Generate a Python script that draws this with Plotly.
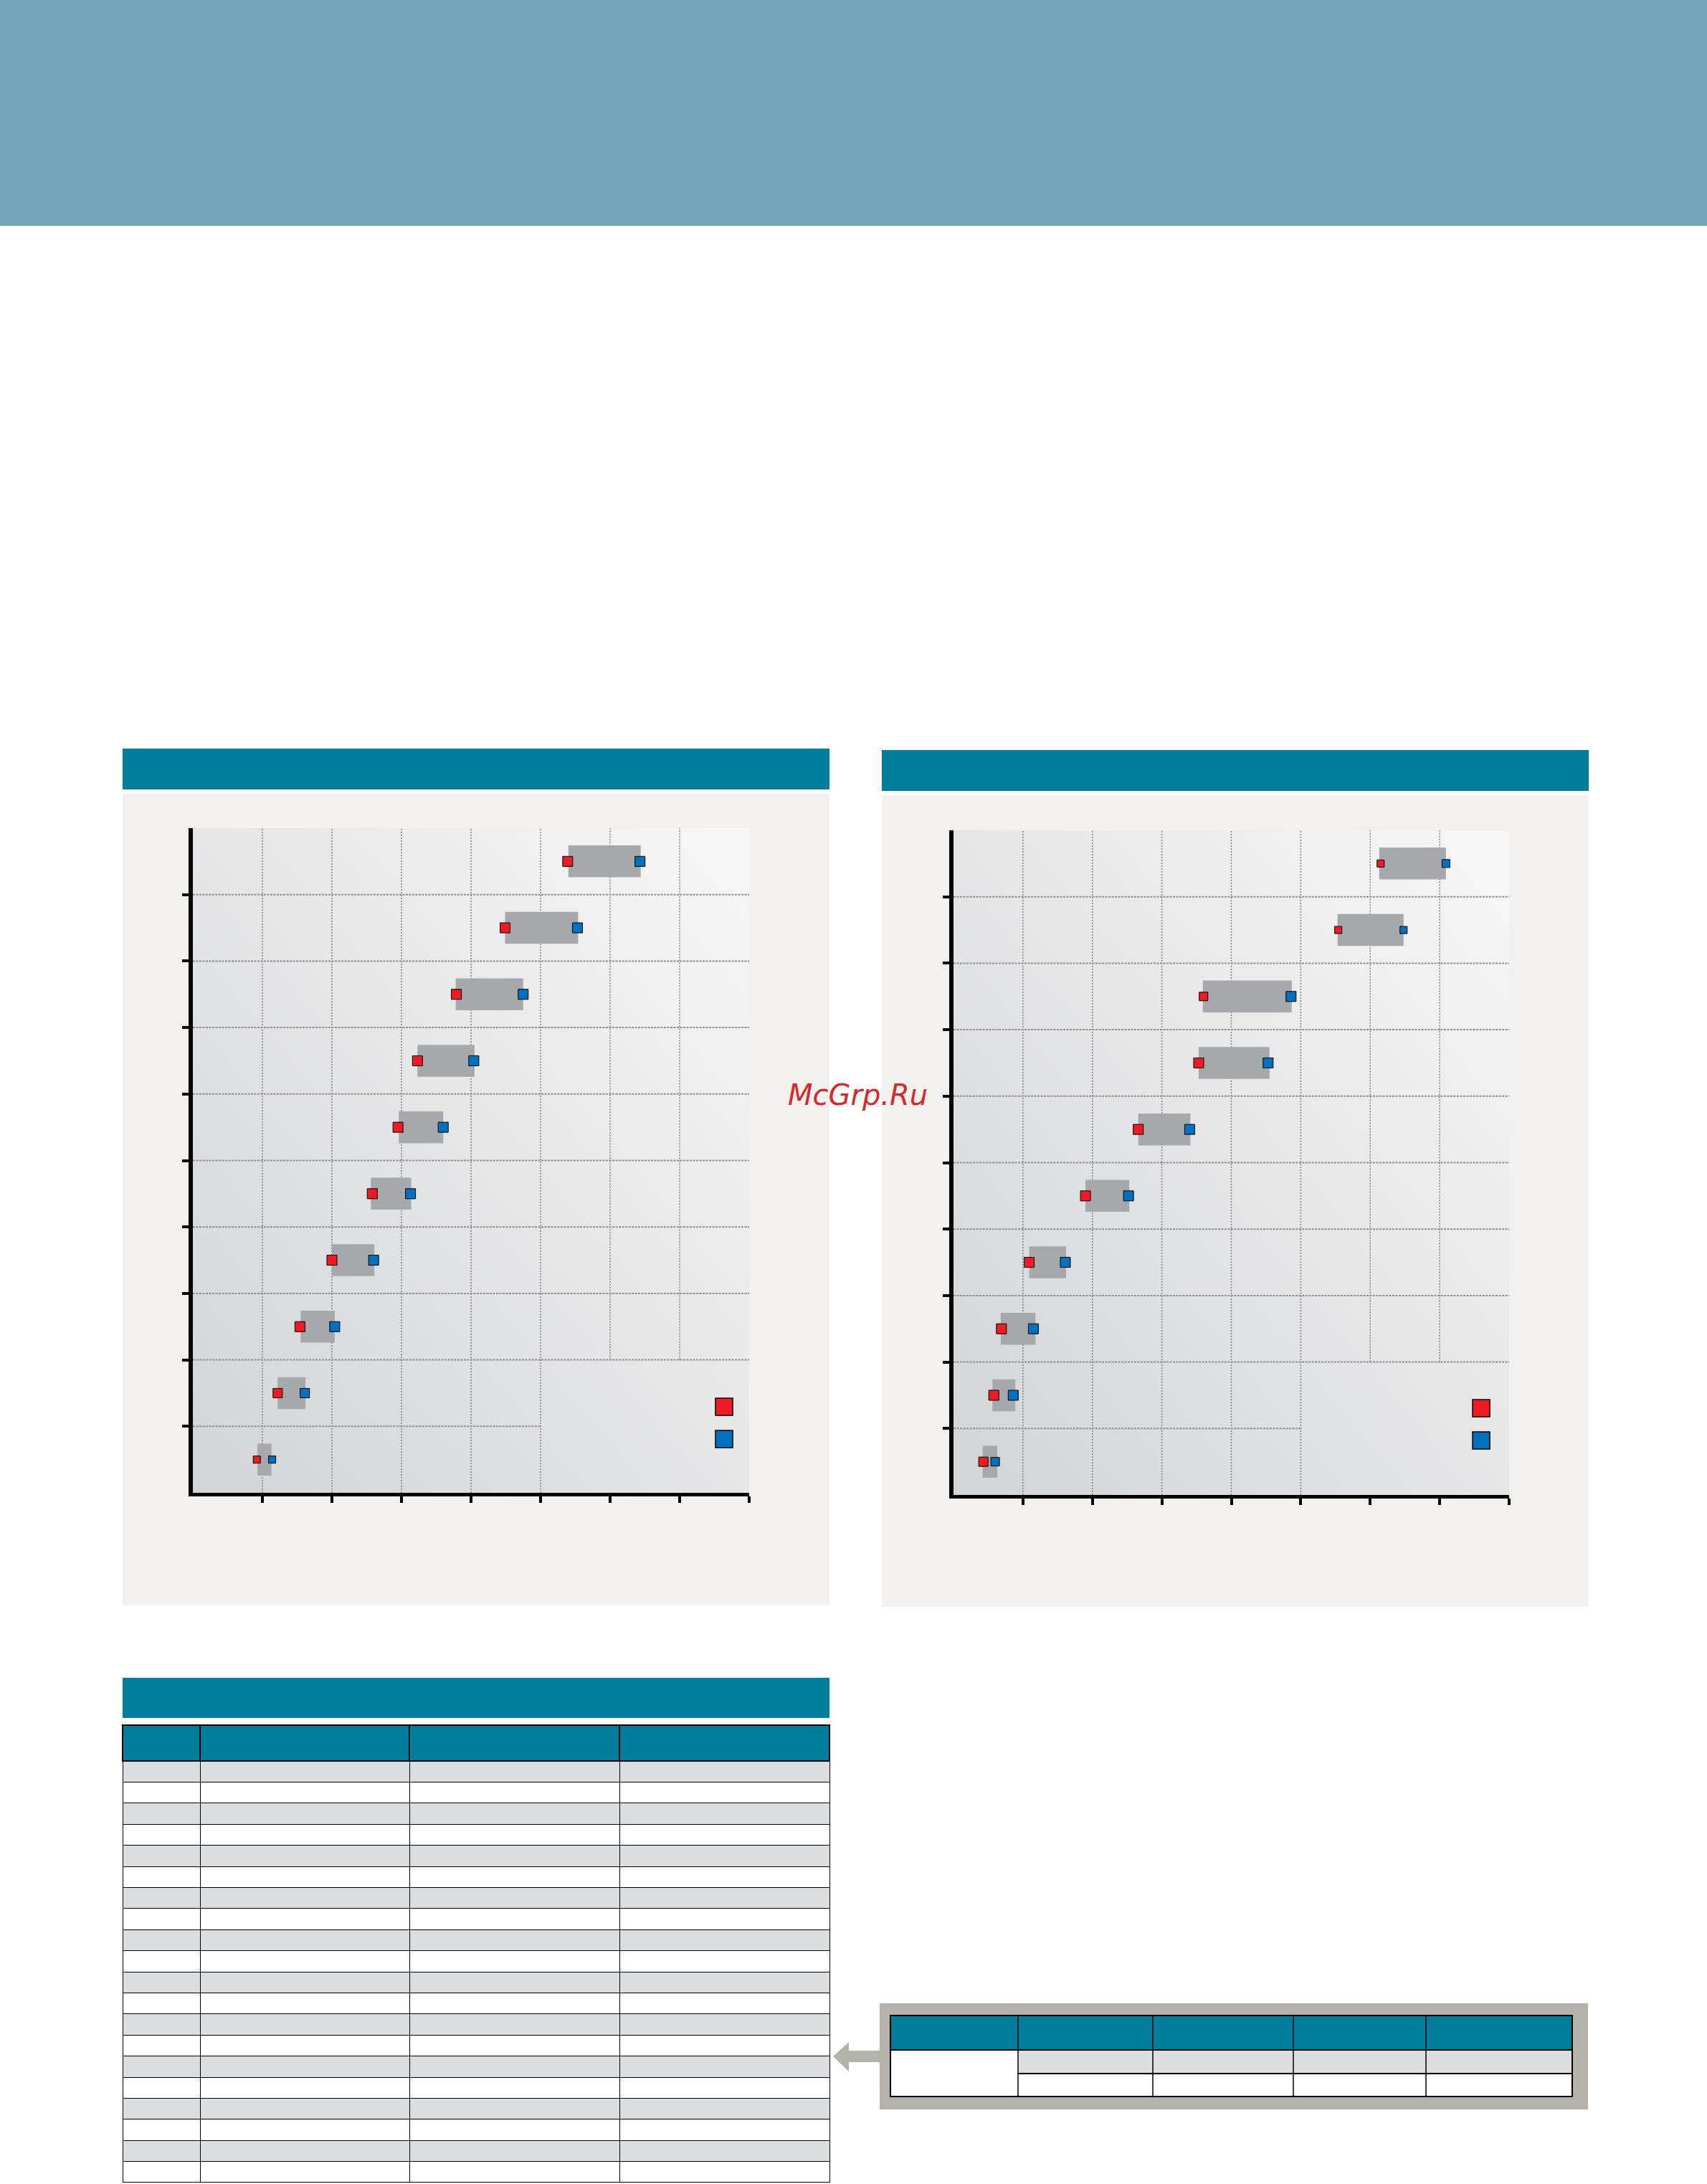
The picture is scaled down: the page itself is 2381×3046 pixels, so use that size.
import base64
import plotly.graph_objects as go

W, H = 2381, 3046

# ---------------- data (rows listed top to bottom) ----------------
rows = ["R1", "R2", "R3", "R4", "R5", "R6", "R7", "R8", "R9", "R10"]

left_low = [5.39, 4.49, 3.79, 3.23, 2.95, 2.58, 2.00, 1.54, 1.22, 0.92]
left_high = [6.43, 5.53, 4.75, 4.04, 3.60, 3.13, 2.60, 2.04, 1.61, 1.14]
left_bar_low = [5.40, 4.49, 3.78, 3.23, 2.96, 2.56, 2.00, 1.55, 1.22, 0.93]
left_bar_high = [6.44, 5.54, 4.75, 4.05, 3.60, 3.14, 2.61, 2.04, 1.62, 1.13]

right_low = [6.15, 5.54, 3.60, 3.53, 2.66, 1.90, 1.09, 0.69, 0.58, 0.43]
right_high = [7.09, 6.48, 4.86, 4.53, 3.40, 2.52, 1.61, 1.15, 0.86, 0.60]
right_bar_low = [6.13, 5.53, 3.59, 3.53, 2.66, 1.90, 1.09, 0.68, 0.56, 0.42]
right_bar_high = [7.09, 6.48, 4.87, 4.55, 3.41, 2.53, 1.62, 1.18, 0.89, 0.63]

x_tickvals = [1, 2, 3, 4, 5, 6, 7, 8]
y_tickvals = [1, 2, 3, 4, 5, 6, 7, 8, 9]

table_header = ["", "", "", ""]
table_cells = [[""] * 20 for _ in range(4)]

watermark = "McGrp.Ru"

# ---------------- styles ----------------
TEAL = "#007D9A"
HEADER_BLUE = "#75A5BA"
PANEL = "#F2F1EF"
BAR_GREY = "#A7A8AB"
RED = "#ED1C24"
BLUE = "#0071BC"
FRAME = "#B4B2AB"
ROW_GREY = "#DCDDDF"

left_sizes_red = [14, 14, 14, 14, 14, 14, 14, 14, 13, 10]
left_sizes_blue = [14, 14, 14, 14, 14, 14, 14, 14, 13, 10]
right_sizes_red = [10, 10, 12, 14, 14, 14, 14, 14, 14, 13]
right_sizes_blue = [11, 10, 14, 14, 14, 14, 14, 14, 14, 12]


def X(px):
    return px / W


def Y(py):
    return 1 - py / H


shapes = []


def rect(x0, y0, x1, y1, fill, layer="below", line_color=None, line_width=0):
    shapes.append(dict(type="rect", xref="paper", yref="paper",
                       x0=X(x0), x1=X(x1), y0=Y(y1), y1=Y(y0),
                       fillcolor=fill, layer=layer,
                       line=dict(color=line_color or fill, width=line_width)))


def hline(x0, x1, y, color="black", width=1.5, layer="below"):
    shapes.append(dict(type="line", xref="paper", yref="paper",
                       x0=X(x0), x1=X(x1), y0=Y(y), y1=Y(y),
                       line=dict(color=color, width=width), layer=layer))


def vline(x, y0, y1, color="black", width=1.5, layer="below"):
    shapes.append(dict(type="line", xref="paper", yref="paper",
                       x0=X(x), x1=X(x), y0=Y(y0), y1=Y(y1),
                       line=dict(color=color, width=width), layer=layer))


# page header band
rect(0, 0, W, 315, HEADER_BLUE)

# chart panels
rect(171, 1044, 1157, 1101, TEAL)
rect(171, 1107, 1157, 2239, PANEL)
rect(1230, 1046, 2216, 1103, TEAL)
rect(1230, 1109, 2216, 2241, PANEL)

# table title band
rect(171, 2340, 1157, 2396, TEAL)

# small table (right bottom) with frame and arrow
rect(1227, 2794, 2215, 2942, FRAME)
rect(1242, 2811, 2193, 2859, TEAL)
rect(1242, 2859, 1420, 2924, "white")
rect(1420, 2859, 2193, 2892, ROW_GREY)
rect(1420, 2892, 2193, 2924, "white")
for cx in [1420, 1608, 1804, 1989]:
    vline(cx, 2811, 2924, width=1.5)
hline(1242, 2193, 2859, width=2)
hline(1420, 2193, 2892, width=2)
shapes.append(dict(type="rect", xref="paper", yref="paper",
                   x0=X(1242), x1=X(2193), y0=Y(2924), y1=Y(2811),
                   line=dict(color="black", width=2), layer="below"))
arrow_pts = [(1162, 2868), (1184, 2848), (1184, 2860), (1227, 2860),
             (1227, 2876), (1184, 2876), (1184, 2889)]
path = "M " + " L ".join(f"{X(a):.6f},{Y(b):.6f}" for a, b in arrow_pts) + " Z"
shapes.append(dict(type="path", xref="paper", yref="paper", path=path,
                   fillcolor=FRAME, line=dict(width=0), layer="below"))

# legend squares (text removed in original)
for cx, cy, col in [(1010, 1962, RED), (1010, 2007, BLUE),
                    (2066, 1964, RED), (2066, 2009, BLUE)]:
    rect(cx - 12, cy - 12, cx + 12, cy + 12, col, layer="above",
         line_color="black", line_width=1.5)


# gridlines per subplot (in data coords), drawn between background and traces
def grid(xr, yr):
    vdash = dict(color="#7F7F7F", width=1.5, dash="2px,2px")
    hdash = dict(color="#8F8F8F", width=2, dash="3px,1.5px")
    for v in [1, 2, 3, 4, 5]:
        shapes.append(dict(type="line", xref=xr, yref=yr, x0=v, x1=v, y0=0, y1=10,
                           line=vdash, layer="between"))
    for v in [6, 7]:
        shapes.append(dict(type="line", xref=xr, yref=yr, x0=v, x1=v, y0=2, y1=10,
                           line=vdash, layer="between"))
    for h in range(2, 10):
        shapes.append(dict(type="line", xref=xr, yref=yr, x0=0, x1=8, y0=h, y1=h,
                           line=hdash, layer="between"))
    shapes.append(dict(type="line", xref=xr, yref=yr, x0=0, x1=5, y0=1, y1=1,
                       line=hdash, layer="between"))


grid("x", "y")
grid("x2", "y2")

# gradient background for plot areas
svg = ('<svg xmlns="http://www.w3.org/2000/svg" width="100" height="100" viewBox="0 0 100 100" '
       'preserveAspectRatio="none"><defs><linearGradient id="g" x1="0" y1="1" x2="1" y2="0">'
       '<stop offset="0" stop-color="#D3D4D6"/><stop offset="1" stop-color="#F7F7F7"/>'
       '</linearGradient></defs><rect width="100" height="100" fill="url(#g)"/></svg>')
src = "data:image/svg+xml;base64," + base64.b64encode(svg.encode()).decode()
images = [dict(source=src, xref=xr, yref=yr, x=0, y=10, sizex=8, sizey=10,
               sizing="stretch", layer="below", xanchor="left", yanchor="top")
          for xr, yr in [("x", "y"), ("x2", "y2")]]

fig = go.Figure()

n = len(rows)
ypos = [n - i - 0.5 for i in range(n)]


def add_chart(lo, hi, blo, bhi, sr, sb, xa, ya):
    fig.add_trace(go.Bar(orientation="h", y=ypos, base=blo,
                         x=[b - a for a, b in zip(blo, bhi)], width=0.48,
                         marker=dict(color=BAR_GREY, line=dict(width=0)),
                         xaxis=xa, yaxis=ya, hoverinfo="skip"))
    fig.add_trace(go.Scatter(x=lo, y=ypos, mode="markers", xaxis=xa, yaxis=ya,
                             marker=dict(symbol="square", size=sr, color=RED, opacity=1,
                                         line=dict(color="black", width=1))))
    fig.add_trace(go.Scatter(x=hi, y=ypos, mode="markers", xaxis=xa, yaxis=ya,
                             marker=dict(symbol="square", size=sb, color=BLUE, opacity=1,
                                         line=dict(color="black", width=1))))


add_chart(left_low, left_high, left_bar_low, left_bar_high,
          left_sizes_red, left_sizes_blue, "x", "y")
add_chart(right_low, right_high, right_bar_low, right_bar_high,
          right_sizes_red, right_sizes_blue, "x2", "y2")

# big table
fills = [ROW_GREY if i % 2 == 0 else "white" for i in range(20)]
fig.add_trace(go.Table(
    domain=dict(x=[X(171), X(1157)], y=[0, Y(2406)]),
    columnwidth=[108, 292, 293, 293],
    header=dict(values=table_header, fill_color=TEAL, line=dict(color="black", width=1.5),
                height=50),
    cells=dict(values=table_cells, fill_color=[fills] * 4,
               line=dict(color="black", width=1), height=29.4),
))

xcommon = dict(range=[0, 8], showgrid=False, zeroline=False, showline=True,
               linecolor="black", linewidth=5, ticks="outside", ticklen=9,
               tickwidth=4, tickcolor="black", tickvals=x_tickvals,
               showticklabels=False, fixedrange=True)
ycommon = dict(range=[0, 10], showgrid=False, zeroline=False, showline=True,
               linecolor="black", linewidth=6, ticks="outside", ticklen=9,
               tickwidth=4, tickcolor="black", tickvals=y_tickvals,
               showticklabels=False, fixedrange=True)

fig.update_layout(
    width=W, height=H, margin=dict(l=0, r=0, t=0, b=0),
    paper_bgcolor="white", plot_bgcolor="rgba(0,0,0,0)", showlegend=False,
    xaxis=dict(domain=[X(269), X(1045)], anchor="y", **xcommon),
    yaxis=dict(domain=[Y(2082), Y(1155)], anchor="x", **ycommon),
    xaxis2=dict(domain=[X(1330), X(2105)], anchor="y2", **xcommon),
    yaxis2=dict(domain=[Y(2085), Y(1158)], anchor="x2", **ycommon),
    shapes=shapes, images=images,
    annotations=[dict(text="<i>" + watermark + "</i>", xref="paper", yref="paper",
                      x=X(1196), y=Y(1527), showarrow=False, xanchor="center",
                      yanchor="middle",
                      font=dict(family="DejaVu Sans", size=40, color="#D42A2A"))],
)

fig.write_html("out.html", config={"displayModeBar": False},
               post_script="document.body.style.margin='0';document.body.style.overflow='hidden';")
